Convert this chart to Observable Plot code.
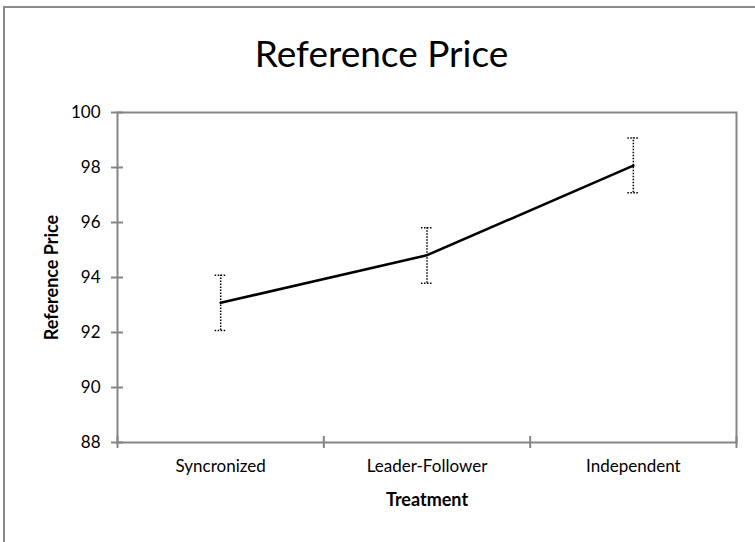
<!DOCTYPE html>
<html><head><meta charset="utf-8">
<script src="https://cdn.jsdelivr.net/npm/d3@7"></script>
<script src="https://cdn.jsdelivr.net/npm/@observablehq/plot@0.6"></script>
<style>
html,body{margin:0;padding:0;background:#fff;}
#wrap{position:relative;width:755px;height:542px;overflow:hidden;font-family:Lato,sans-serif;}
#border{position:absolute;left:3px;top:6px;width:800px;height:600px;border-left:2px solid #8a8a8a;border-top:2px solid #8a8a8a;}
#title{position:absolute;left:0;width:763px;top:34px;text-align:center;font-size:37px;line-height:1;color:#000;}
#chart{position:absolute;left:0;top:0;}
</style></head>
<body><div id="wrap"><div id="border"></div><div id="title">Reference Price</div><div id="chart"></div></div>
<script>
const categories = ["Syncronized", "Leader-Follower", "Independent"];
const means = [93.08, 94.81, 98.07];
const errLow = [92.07, 93.79, 97.08];
const errHigh = [94.08, 95.81, 99.07];
const yTicks = [88, 90, 92, 94, 96, 98, 100];
const xTitle = "Treatment";
const yTitle = "Reference Price";

const data = categories.map((c, i) => ({cat: c, pos: i + 0.5, mean: means[i], lo: errLow[i], hi: errHigh[i]}));
const bounds = d3.range(categories.length + 1);
const centers = data.map(d => d.pos);
const capSymbol = {draw(ctx, size) { const w = Math.sqrt(size / Math.PI); ctx.moveTo(-w, 0); ctx.lineTo(w, 0); }};
const gray = "#868686";

const chart = Plot.plot({
  width: 755, height: 542,
  marginLeft: 117, marginRight: 19, marginTop: 112, marginBottom: 100,
  style: {background: "transparent", fontFamily: "Lato, sans-serif", color: "#000"},
  x: {type: "linear", domain: [0, categories.length]},
  y: {domain: [88, 100]},
  marks: [
    Plot.frame({stroke: gray, strokeWidth: 2}),
    Plot.axisY(yTicks, {tickSize: 12, dx: 6, tickFormat: () => "", stroke: gray, strokeWidth: 2, label: null}),
    Plot.axisY(yTicks, {tickSize: 0, tickPadding: 17, fontSize: 17, label: null, tickFormat: d => String(d)}),
    Plot.axisX(bounds, {tickSize: 12, dy: -6, tickFormat: () => "", stroke: gray, strokeWidth: 2, label: null}),
    Plot.axisX(centers, {tickSize: 0, tickPadding: 17, fontSize: 17, label: null, tickFormat: v => categories[Math.floor(v)]}),
    Plot.text([yTitle], {frameAnchor: "left", rotate: -90, dx: -65, textAnchor: "middle", lineAnchor: "middle", fontWeight: "bold", fontSize: 18}),
    Plot.text([xTitle], {frameAnchor: "bottom", dy: 58, textAnchor: "middle", lineAnchor: "middle", fontWeight: "bold", fontSize: 18}),
    Plot.ruleX(data, {x: "pos", y1: "lo", y2: "hi", stroke: "black", strokeWidth: 1.5, strokeDasharray: "1.5 1.5"}),
    Plot.dot(data, {x: "pos", y: "lo", symbol: capSymbol, r: 6, stroke: "black", strokeWidth: 1.5, strokeDasharray: "1.5 1.5"}),
    Plot.dot(data, {x: "pos", y: "hi", symbol: capSymbol, r: 6, stroke: "black", strokeWidth: 1.5, strokeDasharray: "1.5 1.5"}),
    Plot.line(data, {x: "pos", y: "mean", stroke: "black", strokeWidth: 2.5})
  ]
});
document.getElementById("chart").appendChild(chart);
</script>
</body></html>
